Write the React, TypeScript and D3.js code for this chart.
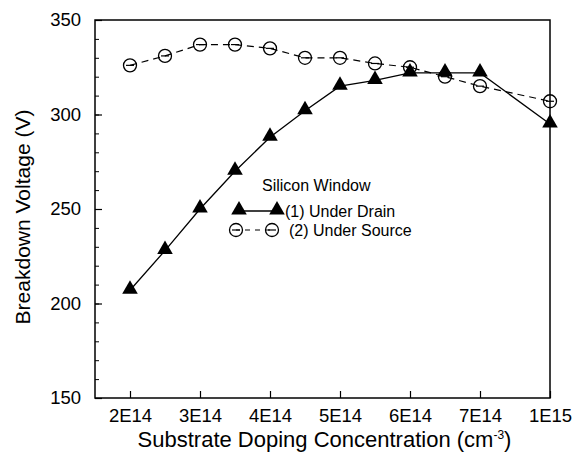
import React, { useEffect, useRef } from 'react';
import * as d3 from 'd3';

// x positions are evenly spaced categories: 1E15 sits right after 7E14
const xTickLabels = ['2E14', '3E14', '4E14', '5E14', '6E14', '7E14', '1E15'];
const xTickPos = [0, 1, 2, 3, 4, 5, 6];
const xPos = [0, 0.5, 1, 1.5, 2, 2.5, 3, 3.5, 4, 4.5, 5, 6];
const underDrain = [207, 228, 250, 270, 288, 302, 315, 318, 322, 322, 322, 295];
const underSource = [326, 331, 337, 337, 335, 330, 330, 327, 325, 320, 315, 307];
const yTicks = [150, 200, 250, 300, 350];

const App = () => {
  const ref = useRef<SVGSVGElement>(null);

  useEffect(() => {
    const svg = d3.select(ref.current);
    svg.selectAll('*').remove();

    const margin = { top: 20, right: 23, bottom: 54, left: 95 };
    const W = 573, H = 452;
    const width = W - margin.left - margin.right;
    const height = H - margin.top - margin.bottom;
    const font = 'Liberation Sans, Arial, sans-serif';

    const g = svg.append('g').attr('transform', `translate(${margin.left},${margin.top})`);

    const x = d3.scaleLinear().domain([-0.5, 6]).range([0, width]);
    const y = d3.scaleLinear().domain([150, 350]).range([height, 0]);

    // frame
    g.append('rect')
      .attr('width', width).attr('height', height)
      .attr('fill', 'none').attr('stroke', '#000').attr('stroke-width', 1.5);

    // y axis, inward ticks
    const yAxis = g.append('g')
      .call(d3.axisLeft(y).tickValues(yTicks).tickSize(-7).tickPadding(14).tickFormat(d3.format('d')));
    yAxis.select('.domain').remove();
    yAxis.selectAll('text').attr('font-size', 18.5).attr('font-family', font).attr('fill', '#000');
    yAxis.selectAll('line').attr('stroke-width', 1.2);
    const yMinor = g.append('g')
      .call(d3.axisLeft(y).tickValues(d3.range(150, 351, 10)).tickSize(-4).tickFormat(() => ''));
    yMinor.select('.domain').remove();

    // x axis, inward ticks
    const xAxis = g.append('g')
      .attr('transform', `translate(0,${height})`)
      .call(d3.axisBottom(x).tickValues(xTickPos).tickSize(-7).tickPadding(11)
        .tickFormat((d, i) => xTickLabels[i]));
    xAxis.select('.domain').remove();
    xAxis.selectAll('text').attr('font-size', 18.5).attr('font-family', font).attr('fill', '#000');
    xAxis.selectAll('line').attr('stroke-width', 1.2);

    // axis titles
    const xt = svg.append('text')
      .attr('x', margin.left + width / 2 + 2).attr('y', 447)
      .attr('text-anchor', 'middle').attr('font-size', 22).attr('font-family', font);
    xt.append('tspan').text('Substrate Doping Concentration (cm');
    xt.append('tspan').text('-3').attr('font-size', 12).attr('dy', -8);
    xt.append('tspan').text(')').attr('dy', 8);

    svg.append('text')
      .attr('transform', `translate(30,${margin.top + height / 2 + 8}) rotate(-90)`)
      .attr('text-anchor', 'middle').attr('font-size', 21).attr('font-family', font)
      .text('Breakdown Voltage (V)');

    const line = d3.line<number>().x((d, i) => x(xPos[i])).y(d => y(d));

    // source series (dashed, open circles)
    g.append('path').datum(underSource)
      .attr('d', line).attr('fill', 'none').attr('stroke', '#000')
      .attr('stroke-width', 1.2).attr('stroke-dasharray', '7,5');

    const tri = d3.symbol().type(d3.symbolTriangle).size(105);

    // drain series (solid, filled triangles)
    g.append('path').datum(underDrain)
      .attr('d', line).attr('fill', 'none').attr('stroke', '#000').attr('stroke-width', 1.3);

    const circle = (sel: any, cx: number, cy: number) => {
      sel.append('circle').attr('cx', cx).attr('cy', cy).attr('r', 6.5)
        .attr('fill', 'none').attr('stroke', '#000').attr('stroke-width', 1.3);
      sel.append('line').attr('x1', cx - 4).attr('x2', cx + 4).attr('y1', cy).attr('y2', cy)
        .attr('stroke', '#000').attr('stroke-width', 1.2);
    };

    underSource.forEach((v, i) => circle(g, x(xPos[i]), y(v)));

    g.selectAll('path.tri').data(underDrain).enter().append('path')
      .attr('class', 'tri')
      .attr('d', tri)
      .attr('transform', (d, i) => `translate(${x(xPos[i])},${y(d) - 1})`)
      .attr('fill', '#000');

    // legend
    const lg = svg.append('g').attr('font-family', font).attr('font-size', 16);
    lg.append('text').attr('x', 262).attr('y', 191).text('Silicon Window');
    lg.append('line').attr('x1', 239).attr('x2', 277).attr('y1', 211).attr('y2', 211)
      .attr('stroke', '#000').attr('stroke-width', 1.3);
    [239, 277].forEach(cx => {
      lg.append('path').attr('d', tri).attr('transform', `translate(${cx},${210})`).attr('fill', '#000');
    });
    lg.append('text').attr('x', 285).attr('y', 217).text('(1) Under Drain');
    lg.append('line').attr('x1', 236).attr('x2', 272).attr('y1', 230).attr('y2', 230)
      .attr('stroke', '#000').attr('stroke-width', 1.2).attr('stroke-dasharray', '5,5').attr('stroke-dashoffset', -9);
    circle(lg, 236, 230);
    circle(lg, 272, 230);
    lg.append('text').attr('x', 289).attr('y', 236).text('(2) Under Source');
  }, []);

  return <svg ref={ref} width={573} height={452} style={{ position: 'absolute', left: 0, top: 0, background: '#fff' }} />;
};

export default App;
